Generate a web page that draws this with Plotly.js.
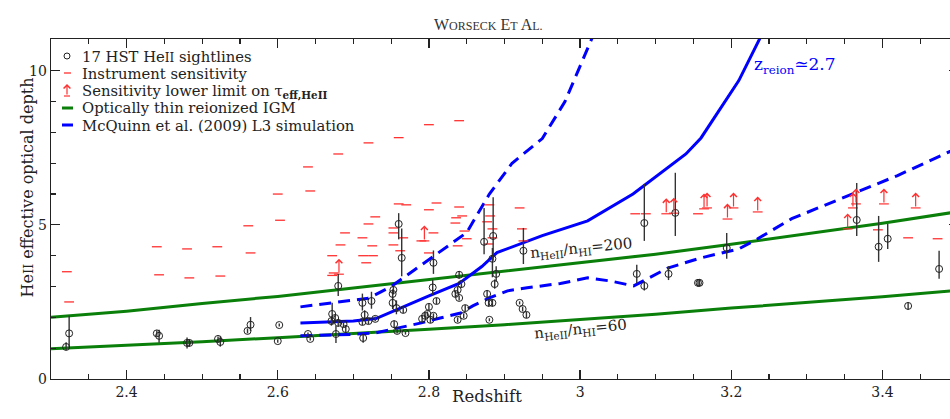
<!DOCTYPE html>
<html>
<head>
<meta charset="utf-8">
<script src="https://cdn.plot.ly/plotly-3.0.1.min.js"></script>
<style>
  html, body { margin: 0; padding: 0; overflow: hidden; background: #fff; }
  #chart { width: 958px; height: 419px; }
</style>
</head>
<body>
<div id="chart"></div>
<script>
// HeII effective optical depth measurements along 17 HST sightlines
const obsZ = [2.324, 2.320, 2.440, 2.443, 2.480, 2.483, 2.521, 2.524, 2.560, 2.564,
  2.602, 2.600, 2.640, 2.643, 2.680, 2.677, 2.672, 2.671, 2.676, 2.680,
  2.687, 2.690, 2.712, 2.715, 2.713, 2.712, 2.720, 2.724, 2.729, 2.753,
  2.752, 2.752, 2.754, 2.757, 2.760, 2.764, 2.766, 2.758, 2.769, 2.791,
  2.795, 2.798, 2.800, 2.802, 2.806, 2.805, 2.810, 2.806, 2.835, 2.838,
  2.840, 2.840, 2.843, 2.838, 2.846, 2.848, 2.873, 2.877, 2.879, 2.880,
  2.884, 2.885, 2.884, 2.887, 2.889, 2.925, 2.920, 2.924, 2.929, 3.075,
  3.085, 3.085, 3.117, 3.126, 3.156, 3.158, 3.194, 3.366, 3.395, 3.407,
  3.434, 3.475];
const obsTau = [1.48, 1.04, 1.48, 1.40, 1.17, 1.17, 1.30, 1.20, 1.56, 1.76,
  1.75, 1.23, 1.46, 1.30, 3.02, 1.46, 2.11, 1.88, 1.98, 1.82,
  1.78, 1.62, 2.47, 2.08, 1.33, 1.85, 1.88, 2.53, 1.95, 2.89,
  2.76, 2.47, 1.78, 2.30, 5.03, 3.93, 2.24, 1.56, 1.49, 1.95,
  2.05, 2.11, 2.34, 1.92, 3.77, 2.97, 2.53, 2.05, 2.76, 2.89,
  2.63, 3.38, 3.08, 1.92, 2.05, 2.30, 4.45, 2.76, 2.47, 1.92,
  2.47, 4.64, 3.90, 3.08, 3.41, 4.16, 2.47, 2.27, 2.08, 3.41,
  5.06, 3.02, 3.41, 5.39, 3.12, 3.12, 4.25, 5.16, 4.29, 4.55,
  2.37, 3.57];
const obsErrUp = [0.57, 0.15, 0.10, 0.20, 0.18, 0.12, 0.08, 0.18, 0.08, 0.25,
  0.05, 0.05, 0.05, 0.05, 0.39, 0.26, 0.36, 0.15, 0.10, 0.12,
  0.10, 0.12, 0.30, 0.15, 0.15, 0.10, 0.10, 0.30, 0.08, 0.15,
  0.15, 0.20, 0.12, 0.25, 0.35, 0.95, 0.10, 0.08, 0.05, 0.10,
  0.10, 0.08, 0.10, 0.10, 0.40, 0.25, 0.10, 0.08, 0.10, 0.10,
  0.08, 0.12, 0.12, 0.08, 0.08, 0.10, 1.10, 0.12, 0.12, 0.05,
  0.12, 1.26, 0.35, 0.15, 0.25, 0.74, 0.05, 0.08, 0.10, 0.30,
  1.27, 0.15, 0.25, 1.30, 0.12, 0.12, 0.49, 1.20, 1.00, 0.48,
  0.12, 0.59];
const obsErrDn = [0.48, 0.10, 0.10, 0.22, 0.18, 0.12, 0.08, 0.15, 0.08, 0.20,
  0.05, 0.05, 0.05, 0.05, 0.33, 0.29, 0.33, 0.15, 0.10, 0.12,
  0.10, 0.12, 0.25, 0.15, 0.15, 0.10, 0.10, 0.25, 0.08, 0.15,
  0.15, 0.20, 0.12, 0.20, 0.50, 0.60, 0.10, 0.08, 0.05, 0.10,
  0.10, 0.08, 0.10, 0.10, 0.36, 0.25, 0.10, 0.08, 0.10, 0.10,
  0.08, 0.12, 0.12, 0.08, 0.08, 0.10, 0.40, 0.12, 0.12, 0.05,
  0.12, 0.80, 0.60, 0.15, 0.25, 0.43, 0.05, 0.08, 0.10, 0.30,
  0.58, 0.15, 0.20, 0.75, 0.12, 0.12, 0.35, 0.52, 0.49, 0.33,
  0.12, 0.32];

// Instrument sensitivity per redshift bin
const sensZ = [2.321, 2.324, 2.440, 2.443, 2.480, 2.483, 2.520, 2.524, 2.561, 2.564,
  2.600, 2.603, 2.640, 2.643, 2.672, 2.674, 2.672, 2.680, 2.683, 2.689,
  2.712, 2.713, 2.717, 2.720, 2.720, 2.725, 2.729, 2.726, 2.753, 2.753,
  2.753, 2.760, 2.760, 2.762, 2.766, 2.770, 2.790, 2.800, 2.800, 2.806,
  2.810, 2.800, 2.836, 2.835, 2.838, 2.840, 2.840, 2.844, 2.847, 2.850,
  2.880, 2.881, 2.877, 2.884, 2.884, 2.879, 2.920, 2.923, 2.925, 3.073,
  3.087, 3.156, 3.394, 3.434, 3.473];
const sensTau = [3.48, 2.50, 4.29, 3.38, 4.22, 3.28, 4.29, 3.34, 4.97, 4.09,
  6.00, 5.15, 6.88, 6.10, 4.00, 3.44, 3.36, 7.30, 4.35, 4.74,
  4.58, 4.00, 3.77, 7.66, 5.03, 4.32, 5.26, 4.00, 4.90, 4.74,
  4.35, 7.83, 5.68, 4.16, 4.58, 5.65, 4.48, 8.25, 5.49, 4.74,
  5.71, 4.09, 5.23, 5.06, 4.32, 8.38, 5.58, 5.29, 4.80, 4.55,
  5.65, 5.29, 5.10, 4.87, 4.58, 4.38, 5.55, 4.87, 4.48, 5.36,
  5.36, 5.36, 4.84, 4.58, 4.55];

// Sensitivity-limited lower limits on tau_eff,HeII
const limZ = [2.681, 2.794, 3.114, 3.124, 3.164, 3.168, 3.195, 3.203, 3.235, 3.354,
  3.361, 3.365, 3.402, 3.444];
const limTau = [3.40, 4.48, 5.36, 5.38, 5.52, 5.55, 5.19, 5.55, 5.42, 4.87,
  5.55, 5.68, 5.68, 5.55];
const limLength = 0.5;

// Optically thin reionized IGM for two HeII/HI column density ratios
const thinZ = [2.3, 2.4, 2.5, 2.6, 2.7, 2.8, 2.9, 3.0, 3.1, 3.2, 3.3, 3.4, 3.5];
const thin200 = [2.00, 2.20, 2.45, 2.68, 2.95, 3.22, 3.50, 3.78, 4.05, 4.37, 4.70, 5.05, 5.43];
const thin60 = [0.98, 1.09, 1.21, 1.34, 1.47, 1.61, 1.76, 1.93, 2.10, 2.30, 2.48, 2.67, 2.88];

// McQuinn et al. (2009) L3 simulation: median and scatter envelope
const simZ = [2.63, 2.70, 2.73, 2.76, 2.80, 2.84, 2.87, 2.89, 2.95, 3.01, 3.07, 3.14, 3.16, 3.21, 3.245];
const simMid = [1.82, 1.88, 1.96, 2.28, 2.70, 3.10, 3.65, 4.10, 4.65, 5.13, 6.00, 7.30, 7.82, 9.68, 11.4];
const simHiZ = [2.63, 2.72, 2.75, 2.81, 2.85, 2.88, 2.91, 2.95, 2.98, 3.02];
const simHi = [2.34, 2.62, 3.00, 4.05, 4.75, 6.00, 7.00, 7.80, 9.00, 11.3];
const simLoZ = [2.63, 2.70, 2.73, 2.76, 2.79, 2.815, 2.842, 2.858, 2.88, 2.904, 2.93, 2.974,
  3.01, 3.04, 3.071, 3.116, 3.16, 3.21, 3.235, 3.28, 3.36, 3.42, 3.5];
const simLo = [1.40, 1.45, 1.50, 1.66, 1.82, 1.98, 2.14, 2.37, 2.63, 2.86, 2.96, 3.10,
  3.28, 3.18, 3.02, 3.60, 3.93, 4.22, 4.55, 5.20, 6.00, 6.60, 7.50];

const xTicks = [2.4, 2.6, 2.8, 3, 3.2, 3.4];
const yTicks = [0, 5, 10];

// ---- styling ----
const SERIF = 'DejaVu Serif, serif';
const INK = '#222';
const RED = '#ff3030';
const GREEN = '#0a7f0a';
const BLUE = '#0000ff';

// plot area geometry in page pixels
const W = 958, H = 419;
const M = { l: 51, r: 0, t: 39, b: 40 };
const px = v => (v - M.l) / (W - M.l - M.r);
const py = v => (H - M.b - v) / (H - M.t - M.b);

const traces = [
  { x: thinZ, y: thin200, mode: 'lines', line: { color: GREEN, width: 3 }, hoverinfo: 'skip' },
  { x: thinZ, y: thin60, mode: 'lines', line: { color: GREEN, width: 3 }, hoverinfo: 'skip' },
  { x: simZ, y: simMid, mode: 'lines', line: { color: BLUE, width: 3 }, hoverinfo: 'skip' },
  { x: simHiZ, y: simHi, mode: 'lines', line: { color: BLUE, width: 3, dash: '12px,7px' }, hoverinfo: 'skip' },
  { x: simLoZ, y: simLo, mode: 'lines', line: { color: BLUE, width: 3, dash: '12px,7px' }, hoverinfo: 'skip' },
  { x: sensZ, y: sensTau, mode: 'markers',
    marker: { symbol: 'line-ew-open', size: 7, color: RED, line: { color: RED, width: 1.3 } } },
  { x: limZ, y: limTau, mode: 'markers',
    marker: { symbol: 'line-ew-open', size: 7, color: RED, line: { color: RED, width: 1.2 } } },
  { x: obsZ, y: obsTau, mode: 'markers',
    marker: { symbol: 'circle-open', size: 7, color: INK, line: { color: INK, width: 1 } },
    error_y: { type: 'data', symmetric: false, array: obsErrUp, arrayminus: obsErrDn,
      thickness: 1.4, width: 0, color: '#333' } }
];

const annotations = [];

// upward arrows for the lower limits
limZ.forEach((z, i) => {
  annotations.push({
    x: z, y: limTau[i] + limLength, ax: z, ay: limTau[i],
    xref: 'x', yref: 'y', axref: 'x', ayref: 'y',
    text: '', showarrow: true, arrowhead: 4, arrowsize: 1.1, arrowwidth: 1.2,
    arrowcolor: RED, standoff: 0, startstandoff: 0
  });
});

// line labels
annotations.push(
  { x: 3.228, y: 10.16, xref: 'x', yref: 'y', xanchor: 'left', yanchor: 'middle', showarrow: false,
    text: 'z<sub>reion</sub>\u22432.7', font: { family: SERIF, size: 17, color: BLUE } },
  { x: 3.002, y: 4.22, xref: 'x', yref: 'y', showarrow: false, textangle: -5.6,
    text: 'n<sub>HeII</sub>/n<sub>HI</sub>=200', font: { family: SERIF, size: 15, color: INK } },
  { x: 3.0, y: 1.62, xref: 'x', yref: 'y', showarrow: false, textangle: -5.6,
    text: 'n<sub>HeII</sub>/n<sub>HI</sub>=60', font: { family: SERIF, size: 15, color: INK } }
);

// running head and axis titles
annotations.push(
  { x: px(488), y: py(14), xref: 'paper', yref: 'paper', showarrow: false,
    text: 'W<span style="font-size:12px">ORSECK</span> E<span style="font-size:12px">T</span> A<span style="font-size:12px">L.</span>',
    font: { family: 'Liberation Serif, serif', size: 16, color: '#333' } },
  { x: px(487), y: py(408), xref: 'paper', yref: 'paper', showarrow: false,
    text: 'Redshift', font: { family: SERIF, size: 16.5, color: INK } },
  { x: px(15), y: py(188), xref: 'paper', yref: 'paper', showarrow: false, textangle: -90,
    text: 'He<span style="font-size:13px">II</span> effective optical depth',
    font: { family: SERIF, size: 16, color: INK } }
);

// key
const keyRows = [56, 73, 91, 108, 125];
const keyText = [
  '17 HST He<span style="font-size:12px">II</span> sightlines',
  'Instrument sensitivity',
  'Sensitivity lower limit on \u03c4<sub><b>eff,HeII</b></sub>',
  'Optically thin reionized IGM',
  'McQuinn et al. (2009) L3 simulation'
];
keyText.forEach((t, i) => {
  annotations.push({ x: px(80), y: py(keyRows[i]), xref: 'paper', yref: 'paper',
    xanchor: 'left', yanchor: 'middle', showarrow: false, text: t,
    font: { family: SERIF, size: 14.8, color: INK } });
});
annotations.push({ x: px(67), y: py(84), ax: px(67), ay: py(96), xref: 'paper', yref: 'paper',
  axref: 'paper', ayref: 'paper', text: '', showarrow: true, arrowhead: 4, arrowsize: 1.1,
  arrowwidth: 1.2, arrowcolor: RED, standoff: 0 });

const shapes = [
  { type: 'circle', xref: 'paper', yref: 'paper', x0: px(64), x1: px(70), y0: py(59), y1: py(53),
    line: { color: INK, width: 1 } },
  { type: 'line', xref: 'paper', yref: 'paper', x0: px(64), x1: px(71), y0: py(73), y1: py(73),
    line: { color: RED, width: 1.3 } },
  { type: 'line', xref: 'paper', yref: 'paper', x0: px(64), x1: px(70), y0: py(96), y1: py(96),
    line: { color: RED, width: 1.2 } },
  { type: 'line', xref: 'paper', yref: 'paper', x0: px(62), x1: px(73), y0: py(108), y1: py(108),
    line: { color: GREEN, width: 3 } },
  { type: 'line', xref: 'paper', yref: 'paper', x0: px(62), x1: px(73), y0: py(125), y1: py(125),
    line: { color: BLUE, width: 3 } }
];

const axisCommon = {
  showgrid: false, zeroline: false, showline: true, linecolor: INK, linewidth: 1.3,
  mirror: 'ticks', ticks: 'inside', ticklen: 9, tickwidth: 1.2, tickcolor: INK,
  tickfont: { family: SERIF, size: 14, color: INK }
};

const layout = {
  width: W, height: H,
  margin: M,
  paper_bgcolor: '#fff', plot_bgcolor: '#fff',
  showlegend: false,
  xaxis: Object.assign({}, axisCommon, {
    range: [2.3, 3.5], tickvals: xTicks, ticktext: xTicks.map(String),
    minor: { dtick: 0.05, tick0: 2.3, ticks: 'inside', ticklen: 5, tickwidth: 1.2, tickcolor: INK }
  }),
  yaxis: Object.assign({}, axisCommon, {
    range: [0, 11.03], tickvals: yTicks, ticktext: yTicks.map(String),
    minor: { dtick: 1, tick0: 0, ticks: 'inside', ticklen: 5, tickwidth: 1.2, tickcolor: INK }
  }),
  annotations: annotations,
  shapes: shapes
};

Plotly.newPlot('chart', traces, layout, { staticPlot: true, displayModeBar: false });
</script>
</body>
</html>
